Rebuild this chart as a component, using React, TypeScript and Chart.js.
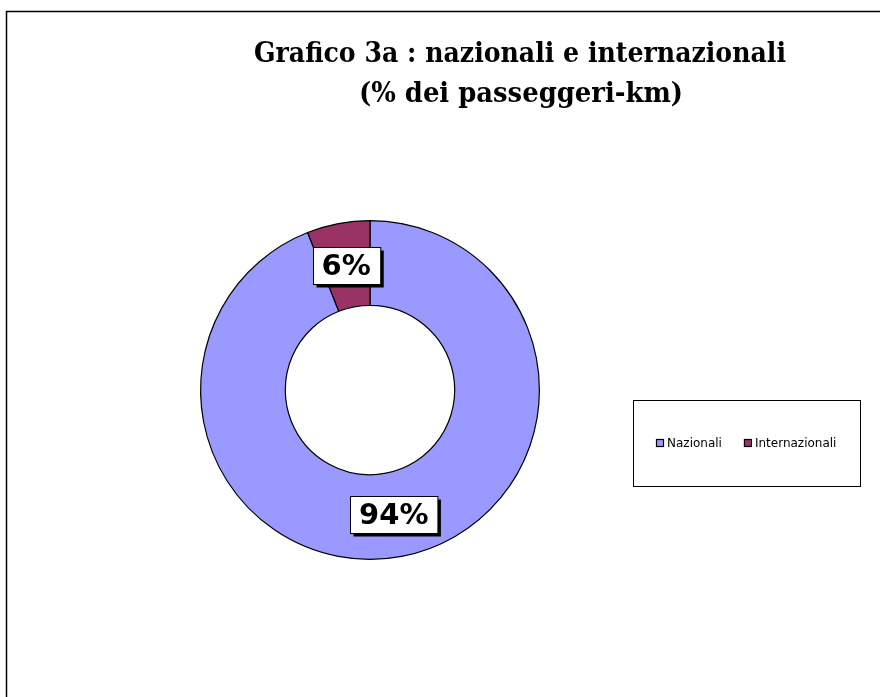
import React, { useEffect, useRef } from "react";
import { Chart, registerables } from "chart.js";

Chart.register(...registerables);

const titleLines = ["Grafico 3a : nazionali e internazionali", "(% dei passeggeri-km)"];
const categories = ["Nazionali", "Internazionali"];
const values = [94, 6];
const colors = ["#9999FF", "#993366"];

const overlayPlugin = {
  id: "overlay",
  afterDraw(chart: any) {
    const ctx = chart.ctx;
    ctx.save();
    // outer frame
    ctx.strokeStyle = "#000";
    ctx.lineWidth = 1.5;
    ctx.beginPath();
    ctx.moveTo(6.5, 700);
    ctx.lineTo(6.5, 11.5);
    ctx.lineTo(890, 11.5);
    ctx.stroke();

    // title
    ctx.fillStyle = "#000";
    ctx.textAlign = "center";
    ctx.textBaseline = "alphabetic";
    ctx.font = "bold 28px 'DejaVu Serif'";
    ctx.fillText(titleLines[0], 520, 62, 532);
    ctx.fillText(titleLines[1], 521, 102, 324);

    // data labels
    const meta = chart.getDatasetMeta(0);
    const total = values.reduce((a, b) => a + b, 0);
    ctx.font = "bold 29px 'DejaVu Sans'";
    ctx.textBaseline = "middle";
    meta.data.forEach((arc: any, i: number) => {
      const p = arc.getCenterPoint();
      const txt = Math.round((values[i] / total) * 100) + "%";
      const w = ctx.measureText(txt).width + 18;
      const h = 37;
      const x = Math.round(p.x - w / 2) + 0.5;
      const y = Math.round(p.y - h / 2) + 0.5;
      ctx.fillStyle = "#000";
      ctx.fillRect(x + 3, y + 3, w, h);
      ctx.fillStyle = "#fff";
      ctx.fillRect(x, y, w, h);
      ctx.strokeStyle = "#000";
      ctx.lineWidth = 1;
      ctx.strokeRect(x, y, w, h);
      ctx.fillStyle = "#000";
      ctx.textAlign = "center";
      ctx.fillText(txt, p.x, p.y + 2);
    });

    // legend
    ctx.strokeStyle = "#000";
    ctx.lineWidth = 1;
    ctx.strokeRect(633.5, 400.5, 227, 86);
    ctx.font = "12px 'DejaVu Sans'";
    ctx.textAlign = "left";
    ctx.textBaseline = "middle";
    let lx = 657;
    categories.forEach((c, i) => {
      ctx.fillStyle = colors[i];
      ctx.fillRect(lx, 440, 6, 6);
      ctx.strokeStyle = "#000";
      ctx.lineWidth = 1.2;
      ctx.strokeRect(lx - 0.5, 439.5, 7, 7);
      ctx.fillStyle = "#000";
      ctx.fillText(c, lx + 10, 443.5);
      lx += 10 + ctx.measureText(c).width + 23;
    });
    ctx.restore();
  },
};

export default function App() {
  const ref = useRef<HTMLCanvasElement | null>(null);
  useEffect(() => {
    if (!ref.current) return;
    const chart = new Chart(ref.current, {
      type: "doughnut",
      data: {
        labels: categories,
        datasets: [
          {
            data: values,
            backgroundColor: colors,
            borderColor: "#000",
            borderWidth: 1.2,
            hoverOffset: 0,
            offset: 0,
          },
        ],
      },
      options: {
        responsive: false,
        animation: false,
        cutout: "50%",
        events: [],
        layout: { padding: { left: 200, right: 340, top: 220, bottom: 137 } },
        plugins: {
          legend: { display: false },
          title: { display: false },
          tooltip: { enabled: false },
        },
      },
      plugins: [overlayPlugin],
    });
    return () => chart.destroy();
  }, []);
  return (
    <div style={{ position: "absolute", left: 0, top: 0, width: 880, height: 697, background: "#fff" }}>
      <canvas ref={ref} width={880} height={697} />
    </div>
  );
}
